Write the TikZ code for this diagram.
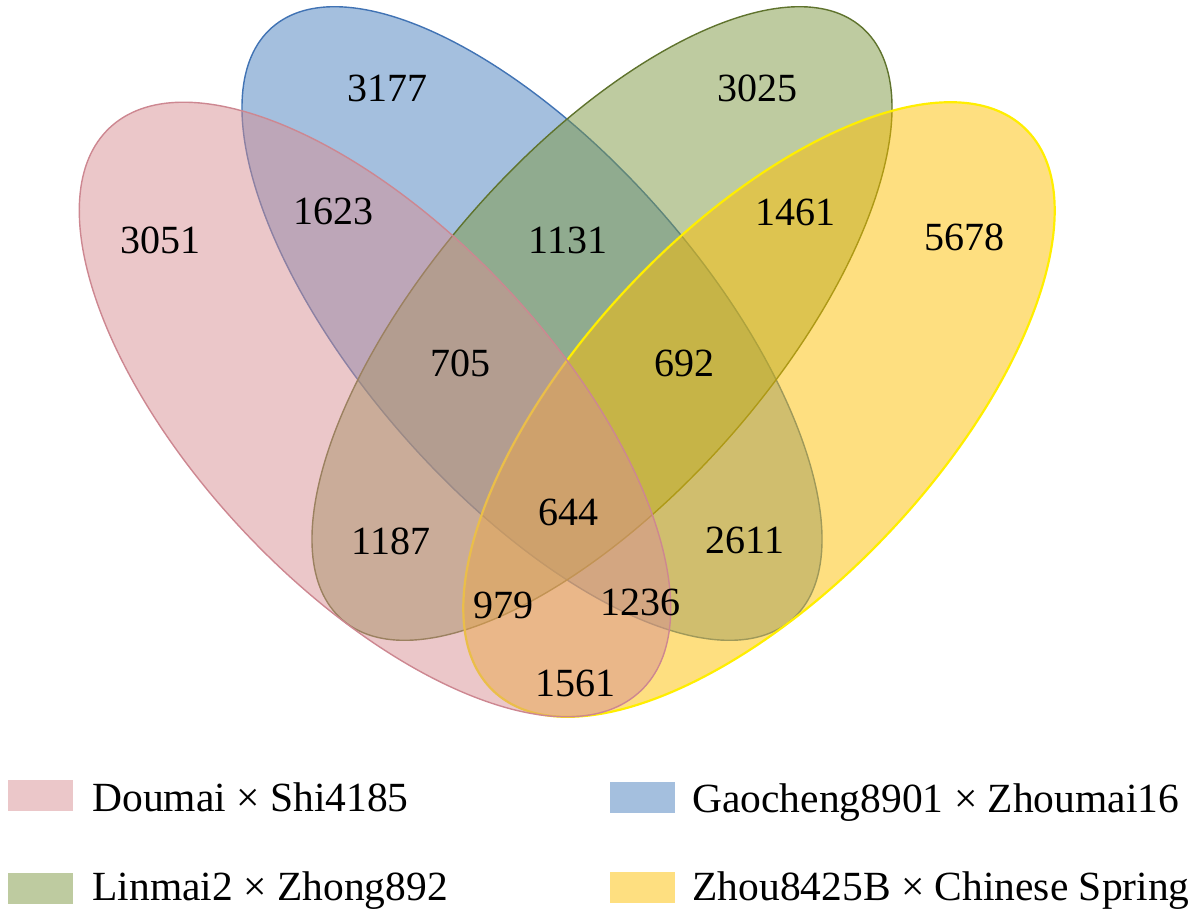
\documentclass[tikz,border=0pt]{standalone}
\usepackage{fontspec}
\setmainfont{Liberation Serif}
\definecolor{cR}{RGB}{215,143,147}
\definecolor{cB}{RGB}{73,127,189}
\definecolor{cG}{RGB}{125,151,65}
\definecolor{cY}{RGB}{253,191,1}
\definecolor{lR}{RGB}{205,135,145}
\definecolor{lB}{RGB}{65,115,180}
\definecolor{lG}{RGB}{95,115,45}
\definecolor{lY}{RGB}{255,238,0}
\begin{document}
\begin{tikzpicture}[x=0.5pt,y=0.5pt,
  setshape/.style={fill opacity=0.5, line width=0.7pt},
  num/.style={font=\fontsize{20}{24}\selectfont, inner sep=0pt},
  legtext/.style={font=\fontsize{20.75}{24}\selectfont, anchor=base west, inner sep=0pt},
  legbox/.style={fill opacity=0.5, draw=none, inner sep=0pt, anchor=north west, minimum width=32.5pt, minimum height=15.5pt}]
\useasboundingbox (0,0) rectangle (1200,-917);
% sets (drawing order: blue, green, yellow, red)
\filldraw[setshape, fill=cB, draw=lB, rotate around={-48.7:(532,-323.5)}] (532,-323.5) ellipse [x radius=197pt, y radius=85.4pt];
\filldraw[setshape, fill=cG, draw=lG, rotate around={48.7:(602,-323.5)}] (602,-323.5) ellipse [x radius=197pt, y radius=85.4pt];
\filldraw[setshape, fill=cY, draw=lY, line width=1.1pt, rotate around={46.7:(759,-409.5)}] (759,-409.5) ellipse [x radius=193.5pt, y radius=89.5pt];
\filldraw[setshape, fill=cR, draw=lR, rotate around={-46.7:(375,-409.5)}] (375,-409.5) ellipse [x radius=193.5pt, y radius=89.5pt];
% counts
\node[num] (n3051) at (160,-240) {3051};
\node[num] (n3177) at (387,-88) {3177};
\node[num] (n3025) at (757,-88) {3025};
\node[num] (n5678) at (964,-237) {5678};
\node[num] (n1623) at (333,-211) {1623};
\node[num] (n1131) at (568,-240) {1131};
\node[num] (n1461) at (795,-212) {1461};
\node[num] (n705) at (460,-363) {705};
\node[num] (n692) at (684,-363) {692};
\node[num] (n644) at (568,-512) {644};
\node[num] (n1187) at (391,-541) {1187};
\node[num] (n2611) at (745,-540) {2611};
\node[num] (n979) at (503,-605) {979};
\node[num] (n1236) at (640,-602) {1236};
\node[num] (n1561) at (575,-683) {1561};
% legend
\node[legbox, fill=cR] (kR) at (8,-780) {};
\node[legtext] (tR) at (92,-811) {Doumai × Shi4185};
\node[legbox, fill=cB] (kB) at (610,-782) {};
\node[legtext] (tB) at (692,-812) {Gaocheng8901 × Zhoumai16};
\node[legbox, fill=cG] (kG) at (8,-873) {};
\node[legtext] (tG) at (92,-900) {Linmai2 × Zhong892};
\node[legbox, fill=cY] (kY) at (610,-872) {};
\node[legtext] (tY) at (692,-900) {Zhou8425B × Chinese Spring};
\end{tikzpicture}
\end{document}
